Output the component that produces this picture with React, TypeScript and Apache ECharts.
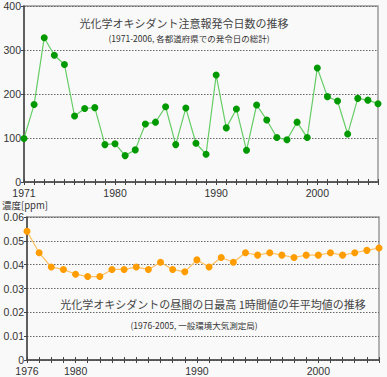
import React, { useEffect, useRef } from "react";
import * as echarts from "echarts";

const yearsTop = [
  "1971","1972","1973","1974","1975","1976","1977","1978","1979","1980",
  "1981","1982","1983","1984","1985","1986","1987","1988","1989","1990",
  "1991","1992","1993","1994","1995","1996","1997","1998","1999","2000",
  "2001","2002","2003","2004","2005","2006",
];
const alertDays = [
  99, 176, 328, 288, 267, 150, 167, 169, 85, 87,
  60, 73, 132, 136, 171, 85, 168, 88, 63, 243,
  123, 166, 72, 175, 141, 101, 96, 136, 101, 259,
  194, 184, 109, 190, 186, 178,
];
const yearsBottom = [
  "1976","1977","1978","1979","1980","1981","1982","1983","1984","1985",
  "1986","1987","1988","1989","1990","1991","1992","1993","1994","1995",
  "1996","1997","1998","1999","2000","2001","2002","2003","2004","2005",
];
const concentration = [
  0.054, 0.045, 0.039, 0.038, 0.036, 0.035, 0.035, 0.038, 0.038, 0.039,
  0.038, 0.041, 0.038, 0.037, 0.042, 0.039, 0.043, 0.041, 0.045, 0.044,
  0.045, 0.044, 0.043, 0.044, 0.044, 0.045, 0.044, 0.045, 0.046, 0.047,
];
const topTitle = "光化学オキシダント注意報発令日数の推移";
const topSub = "(1971-2006, 各都道府県での発令日の総計)";
const bottomTitle = "光化学オキシダントの昼間の日最高 1時間値の年平均値の推移";
const bottomSub = "(1976-2005, 一般環境大気測定局)";
const unitLabel = "濃度[ppm]";

const NUM_FONT = "'Liberation Sans', Arial, sans-serif";
const JP_FONT = "'Noto Sans CJK JP', sans-serif";
const TEXT = "#333";
const AXIS = "#444";

const labelShowFrom = (first: string) => (_i: number, v: string) => v === first || Number(v) % 10 === 0;

export default function App() {
  const ref = useRef<HTMLDivElement>(null);
  useEffect(() => {
    if (!ref.current) return;
    const chart = echarts.init(ref.current, undefined, { renderer: "svg" });
    const xBase = (gridIndex: number, data: string[], margin: number) => ({
      type: "category" as const,
      gridIndex,
      data,
      boundaryGap: false,
      axisLine: { show: true, lineStyle: { color: AXIS, width: 1.5 } },
      axisTick: { show: true, interval: 0, length: 3, lineStyle: { color: AXIS } },
      axisLabel: {
        interval: labelShowFrom(data[0]),
        color: TEXT,
        fontFamily: NUM_FONT,
        fontSize: 10.5,
        margin,
      },
      splitLine: { show: false },
    });
    const xInner = (gridIndex: number, data: string[]) => ({
      type: "category" as const,
      gridIndex,
      data,
      boundaryGap: false,
      position: "bottom" as const,
      axisLine: { show: false },
      axisTick: { show: true, inside: true, interval: 0, length: 3, lineStyle: { color: AXIS } },
      axisLabel: { show: false },
      splitLine: { show: false },
    });
    const yBase = (gridIndex: number, max: number, interval: number, fmt?: (v: number) => string) => ({
      type: "value" as const,
      gridIndex,
      min: 0,
      max,
      interval,
      axisLine: { show: true, lineStyle: { color: AXIS, width: 1.5 } },
      axisTick: { show: true, length: 3, lineStyle: { color: AXIS } },
      axisLabel: {
        color: TEXT,
        fontFamily: NUM_FONT,
        fontSize: 10.5,
        margin: 3,
        formatter: fmt,
      },
      splitLine: { show: true, lineStyle: { color: "#666", type: [1.5, 1.5] as any, width: 1 } },
    });
    chart.setOption({
      animation: false,
      backgroundColor: "#f9f9f9",
      grid: [
        { left: 24, top: 6, right: 9, height: 176, show: true, borderColor: "#999", borderWidth: 1.5, backgroundColor: "transparent" },
        { left: 27, top: 217, right: 8, height: 143, show: true, borderColor: "#999", borderWidth: 1.5, backgroundColor: "transparent" },
      ],
      xAxis: [
        xBase(0, yearsTop, 5),
        xBase(1, yearsBottom, 5),
        xInner(0, yearsTop),
        xInner(1, yearsBottom),
      ],
      yAxis: [
        yBase(0, 400, 100),
        yBase(1, 0.06, 0.01, (v: number) => (v === 0 ? "0" : v.toFixed(2))),
      ],
      series: [
        {
          type: "line",
          xAxisIndex: 0,
          yAxisIndex: 0,
          data: alertDays,
          symbol: "circle",
          symbolSize: 7,
          showAllSymbol: true,
          itemStyle: { color: "#009900" },
          lineStyle: { color: "#66cc66", width: 1.2 },
        },
        {
          type: "line",
          xAxisIndex: 1,
          yAxisIndex: 1,
          data: concentration,
          symbol: "circle",
          symbolSize: 7,
          showAllSymbol: true,
          itemStyle: { color: "#ff9c00" },
          lineStyle: { color: "#ffc060", width: 1.2 },
        },
      ],
      graphic: [
        { type: "text", x: 184, y: 23, style: { text: topTitle, font: `11px ${JP_FONT}`, fill: "#444", textAlign: "center", textVerticalAlign: "middle" } },
        { type: "text", x: 189, y: 38, style: { text: topSub, font: `8.5px ${JP_FONT}`, fill: TEXT, textAlign: "center", textVerticalAlign: "middle" } },
        { type: "text", x: 213, y: 304, style: { text: bottomTitle, font: `11px ${JP_FONT}`, fill: "#444", textAlign: "center", textVerticalAlign: "middle" } },
        { type: "text", x: 194, y: 325, style: { text: bottomSub, font: `8.5px ${JP_FONT}`, fill: TEXT, textAlign: "center", textVerticalAlign: "middle" } },
        { type: "text", x: 2, y: 205, style: { text: unitLabel, font: `9.5px ${JP_FONT}`, fill: TEXT, textAlign: "left", textVerticalAlign: "middle" } },
      ],
    });
    return () => chart.dispose();
  }, []);
  return (
    <div
      ref={ref}
      style={{ position: "fixed", left: 0, top: 0, width: 387, height: 377 }}
    />
  );
}
